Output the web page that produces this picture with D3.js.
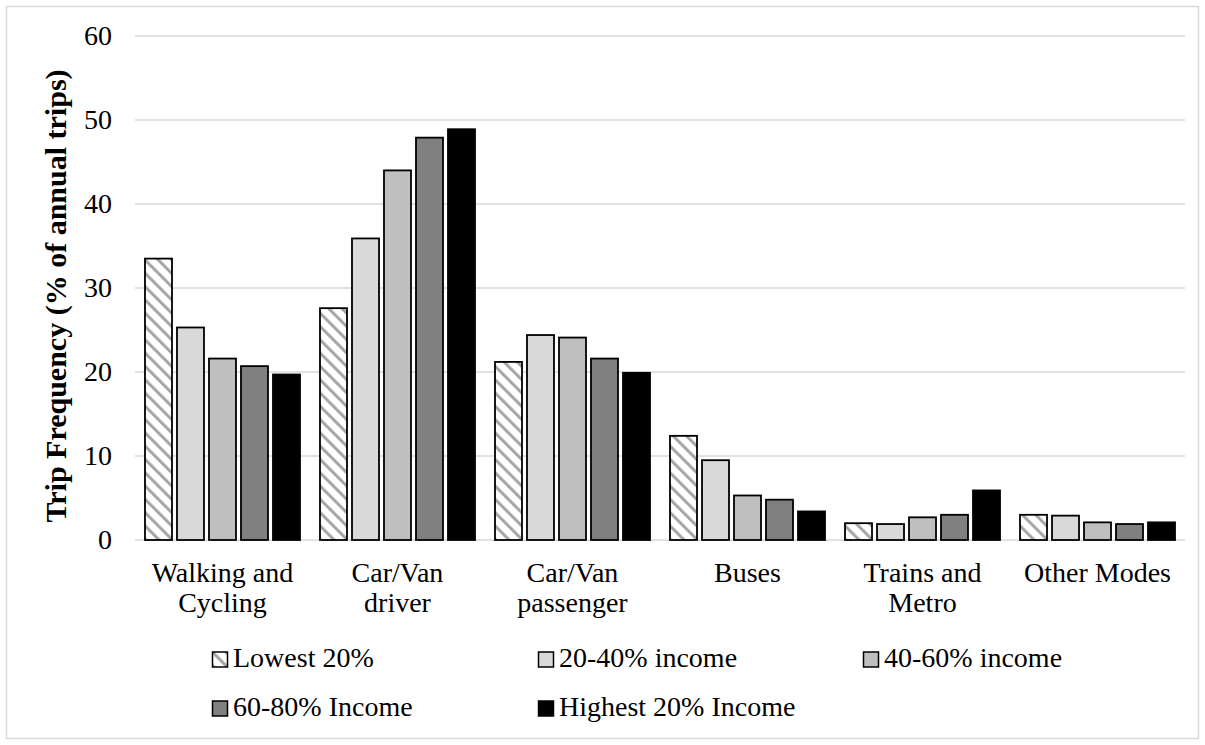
<!DOCTYPE html>
<html lang="en">
<head>
  <meta charset="UTF-8" />
  <title>Trip Frequency by Income Group</title>
  <script src="https://d3js.org/d3.v7.min.js"></script>
  <style>
    body { margin: 0; background: #fff; }
    svg { display: block; font-family: "Liberation Serif", "Times New Roman", serif; }
  </style>
</head>
<body>
  <svg width="1205" height="745"></svg>
  <script>
    // data
    const categories = [["Walking and", "Cycling"], ["Car/Van", "driver"], ["Car/Van", "passenger"],
                        ["Buses"], ["Trains and", "Metro"], ["Other Modes"]];
    const series = ["Lowest 20%", "20-40% income", "40-60% income", "60-80% Income", "Highest 20% Income"];
    const lowest   = [33.5, 27.6, 21.2, 12.4, 2.0, 3.0];
    const inc20_40 = [25.3, 35.9, 24.4, 9.5, 1.9, 2.9];
    const inc40_60 = [21.6, 44.0, 24.1, 5.3, 2.7, 2.1];
    const inc60_80 = [20.7, 47.9, 21.6, 4.8, 3.0, 1.9];
    const highest  = [19.7, 48.9, 19.9, 3.4, 5.9, 2.1];
    const yTicks = [0, 10, 20, 30, 40, 50, 60];

    const values = [lowest, inc20_40, inc40_60, inc60_80, highest];
    const fills = ["url(#hatch)", "#d9d9d9", "#bfbfbf", "#808080", "#000000"];

    const svg = d3.select("svg");
    const margin = { top: 36, right: 20, bottom: 205, left: 135 };
    const W = 1205, H = 745;
    const width = W - margin.left - margin.right;
    const height = H - margin.top - margin.bottom;
    const fontSize = 28;

    // hatch pattern for the lowest-income series
    const defs = svg.append("defs");
    const pat = defs.append("pattern")
      .attr("id", "hatch")
      .attr("patternUnits", "userSpaceOnUse")
      .attr("width", 9.4).attr("height", 9.4)
      .attr("patternTransform", "rotate(-45)");
    pat.append("rect").attr("width", 9.4).attr("height", 9.4).attr("fill", "#fff");
    pat.append("rect").attr("x", 0).attr("y", 0).attr("width", 3).attr("height", 9.4).attr("fill", "#a6a6a6");

    // outer frame
    svg.append("rect")
      .attr("x", 6.5).attr("y", 6.5).attr("width", W - 13).attr("height", H - 13)
      .attr("fill", "none").attr("stroke", "#d9d9d9").attr("stroke-width", 1.5);

    const chart = svg.append("g").attr("transform", `translate(${margin.left},${margin.top})`);

    const x0 = d3.scaleBand().domain(d3.range(categories.length)).range([0, width])
      .paddingInner(0.1143).paddingOuter(0.0571);
    const x1 = d3.scaleBand().domain(d3.range(series.length)).range([0, x0.bandwidth()])
      .paddingInner(0.156).paddingOuter(0);
    const y = d3.scaleLinear().domain([0, 60]).range([height, 0]);

    // gridlines
    chart.append("g")
      .selectAll("line")
      .data(yTicks)
      .join("line")
      .attr("x1", 0).attr("x2", width)
      .attr("y1", d => y(d)).attr("y2", d => y(d))
      .attr("stroke", "#d9d9d9").attr("stroke-width", 1.5);

    // y axis labels
    const yAxis = chart.append("g")
      .call(d3.axisLeft(y).tickValues(yTicks).tickSize(0).tickPadding(23));
    yAxis.select(".domain").remove();
    yAxis.selectAll("text")
      .attr("font-size", fontSize).attr("font-family", "Liberation Serif").attr("fill", "#000");

    // y title
    svg.append("text")
      .attr("transform", `translate(66,296) rotate(-90)`)
      .attr("text-anchor", "middle")
      .attr("font-size", 30).attr("font-weight", "bold")
      .text("Trip Frequency (% of annual trips)");

    // bars
    const groups = chart.selectAll("g.grp")
      .data(categories)
      .join("g")
      .attr("class", "grp")
      .attr("transform", (d, i) => `translate(${x0(i)},0)`);

    groups.selectAll("rect")
      .data((d, i) => values.map((v, s) => ({ s, v: v[i] })))
      .join("rect")
      .attr("x", d => x1(d.s))
      .attr("y", d => y(d.v))
      .attr("width", x1.bandwidth())
      .attr("height", d => y(0) - y(d.v))
      .attr("fill", d => fills[d.s])
      .attr("stroke", "#000").attr("stroke-width", 1.8);

    // category labels
    const catLabels = chart.append("g");
    categories.forEach((lines, i) => {
      const cx = x0(i) + x0.bandwidth() / 2;
      const t = catLabels.append("text")
        .attr("x", cx)
        .attr("y", 582 - margin.top)
        .attr("text-anchor", "middle")
        .attr("font-size", fontSize);
      lines.forEach((l, j) => {
        t.append("tspan").attr("x", cx).attr("dy", j === 0 ? 0 : 30).text(l);
      });
    });

    // legend
    const legendPos = [[212, 667], [538, 667], [863, 667], [212, 716], [538, 716]];
    series.forEach((name, s) => {
      const [lx, ly] = legendPos[s];
      const g = svg.append("g").attr("transform", `translate(${lx},${ly})`);
      g.append("rect")
        .attr("x", 0.5).attr("y", -15).attr("width", 15).attr("height", 15)
        .attr("fill", fills[s]).attr("stroke", "#000").attr("stroke-width", 1.5);
      g.append("text")
        .attr("x", 21).attr("y", 0)
        .attr("font-size", fontSize)
        .text(name);
    });
  </script>
</body>
</html>
